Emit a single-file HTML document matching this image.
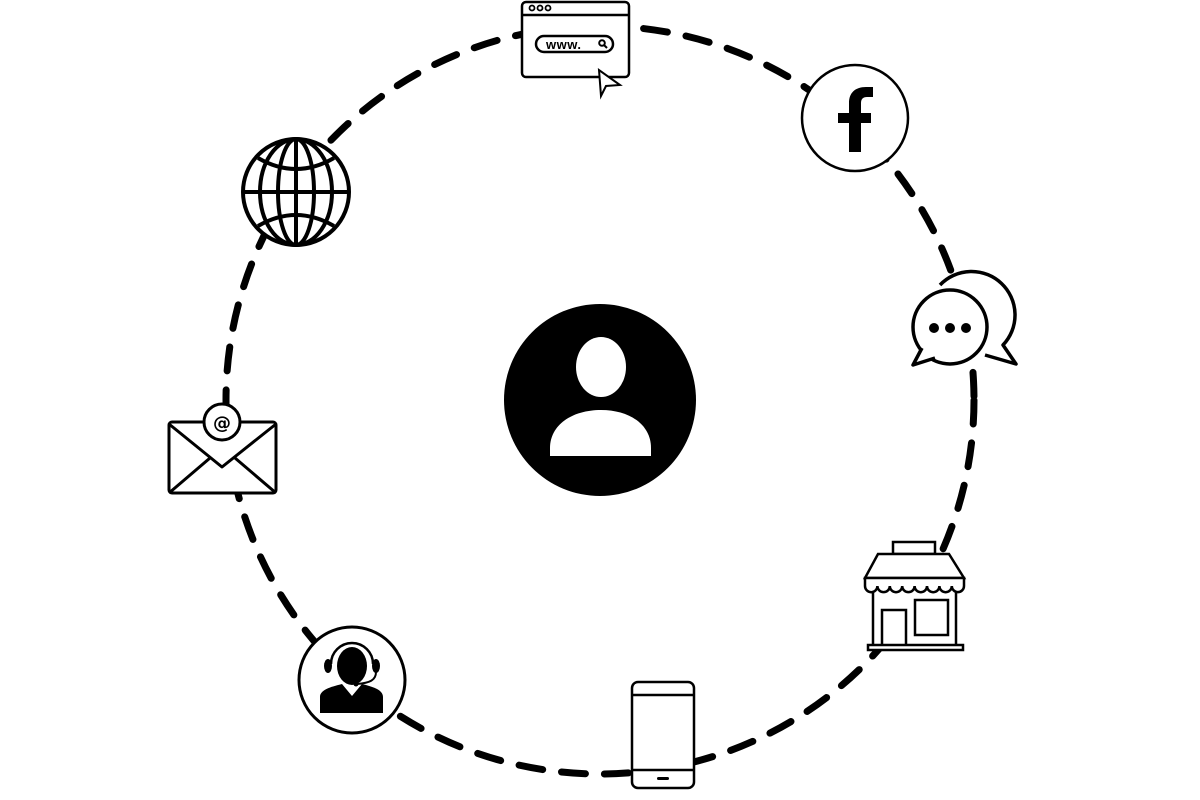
<!DOCTYPE html>
<html><head><meta charset="utf-8"><style>
html,body{margin:0;padding:0;background:#fff;width:1200px;height:800px;overflow:hidden}
</style></head><body>
<svg width="1200" height="800" viewBox="0 0 1200 800" xmlns="http://www.w3.org/2000/svg">
<circle cx="600" cy="400" r="374" fill="none" stroke="#000" stroke-width="7" stroke-dasharray="24 19" stroke-linecap="round"/>

<!-- center person -->
<circle cx="600" cy="400" r="96" fill="#000"/>
<ellipse cx="601" cy="367" rx="25" ry="30" fill="#fff"/>
<path d="M550 456 L651 456 L651 448 C651 425 630 410 601 410 C572 410 550 425 550 448 Z" fill="#fff"/>

<!-- browser -->
<g stroke="#000" stroke-width="2.5" fill="#fff">
<rect x="522" y="2" width="107" height="75" rx="4"/>
<line x1="522" y1="15" x2="629" y2="15"/>
<circle cx="532" cy="8" r="2.5" fill="none" stroke-width="1.8"/>
<circle cx="540" cy="8" r="2.5" fill="none" stroke-width="1.8"/>
<circle cx="548" cy="8" r="2.5" fill="none" stroke-width="1.8"/>
<rect x="536" y="36" width="77" height="16" rx="8"/>
<circle cx="602" cy="43" r="2.8" fill="none" stroke-width="2"/>
<line x1="604" y1="45" x2="607" y2="48" stroke-width="2"/>
<path d="M599 70 L601 96 L606 86 L620 85 Z" stroke-width="2"/>
</g>
<text x="546" y="49" font-family="Liberation Sans, sans-serif" font-weight="bold" font-size="13" fill="#000" letter-spacing="0.5">www.</text>

<!-- facebook -->
<circle cx="855" cy="118" r="53" fill="#fff" stroke="#000" stroke-width="2.5"/>
<path d="M849 152 L861 152 L861 123 L871 123 L871 113 L861 113 L861 103 C861 99 863 97 867 97 L873 97 L873 87 L866 87 C855 87 849 93 849 103 L849 113 L838 113 L838 123 L849 123 Z" fill="#000"/>

<!-- chat -->
<g stroke="#000" stroke-width="3.5" fill="#fff" stroke-linejoin="round">
<path d="M940 285 A42 42 0 1 1 1003 345 L1016 364 L985 355"/>
<circle cx="950" cy="327" r="37"/>
<path d="M922 348 L913 365 L935 358" />
</g>
<circle cx="934" cy="328" r="5"/><circle cx="950" cy="328" r="5"/><circle cx="966" cy="328" r="5"/>

<!-- store -->
<g stroke="#000" stroke-width="2.5" fill="#fff">
<rect x="873" y="586" width="83" height="60"/>
<rect x="882" y="610" width="24" height="36"/>
<rect x="915" y="600" width="33" height="35"/>
<rect x="893" y="542" width="42" height="12"/>
<path d="M878 554 L949 554 L964 578 L865 578 Z"/>
<path d="M865 578 L865 586 A6.2 6.2 0 0 0 877.4 586 A6.2 6.2 0 0 0 889.8 586 A6.2 6.2 0 0 0 902.2 586 A6.2 6.2 0 0 0 914.6 586 A6.2 6.2 0 0 0 927 586 A6.2 6.2 0 0 0 939.4 586 A6.2 6.2 0 0 0 951.8 586 A6.1 6.1 0 0 0 964 586 L964 578 Z"/>
<rect x="868" y="645" width="95" height="5"/>
</g>

<!-- phone -->
<g stroke="#000" stroke-width="2.5" fill="#fff">
<rect x="632" y="682" width="62" height="106" rx="6"/>
<line x1="632" y1="695" x2="694" y2="695"/>
<line x1="632" y1="770" x2="694" y2="770"/>
</g>
<rect x="657" y="777" width="12" height="3" rx="1.5"/>

<!-- support -->
<circle cx="352" cy="680" r="53" fill="#fff" stroke="#000" stroke-width="3"/>
<ellipse cx="352" cy="666" rx="15" ry="19" fill="#000"/>
<path d="M320 713 L320 697 C320 690 330 687 342 684 L352 696 L362 684 C374 687 383 690 383 697 L383 713 Z" fill="#000"/>
<path d="M331 664 A21 21 0 0 1 373 664" fill="none" stroke="#000" stroke-width="2.5"/>
<ellipse cx="328" cy="666" rx="4" ry="7"/><ellipse cx="376" cy="666" rx="4" ry="7"/>
<path d="M376 672 C376 680 370 683 357 684" fill="none" stroke="#000" stroke-width="2"/>
<circle cx="356" cy="684" r="2.5"/>

<!-- envelope -->
<g stroke="#000" stroke-width="3" fill="#fff" stroke-linejoin="round">
<rect x="169" y="422" width="107" height="71" rx="3"/>
<path d="M169 424 L222 467 L276 424"/>
<path d="M169 493 L210 458 M276 493 L235 458"/>
<circle cx="222" cy="422" r="18"/>
</g>
<text x="222" y="429" text-anchor="middle" font-family="DejaVu Sans, sans-serif" font-weight="bold" font-size="18" fill="#000">@</text>

<!-- globe -->
<g stroke="#000" stroke-width="4" fill="#fff">
<circle cx="296" cy="192" r="53"/>
<g fill="none">
<ellipse cx="296" cy="192" rx="18" ry="53"/>
<ellipse cx="296" cy="192" rx="36" ry="53"/>
<line x1="296" y1="139" x2="296" y2="245"/>
<line x1="243" y1="192" x2="349" y2="192"/>
<path d="M258 158 Q296 180 334 158"/>
<path d="M258 226 Q296 204 334 226"/>
</g>
</g>
</svg>
</body></html>
